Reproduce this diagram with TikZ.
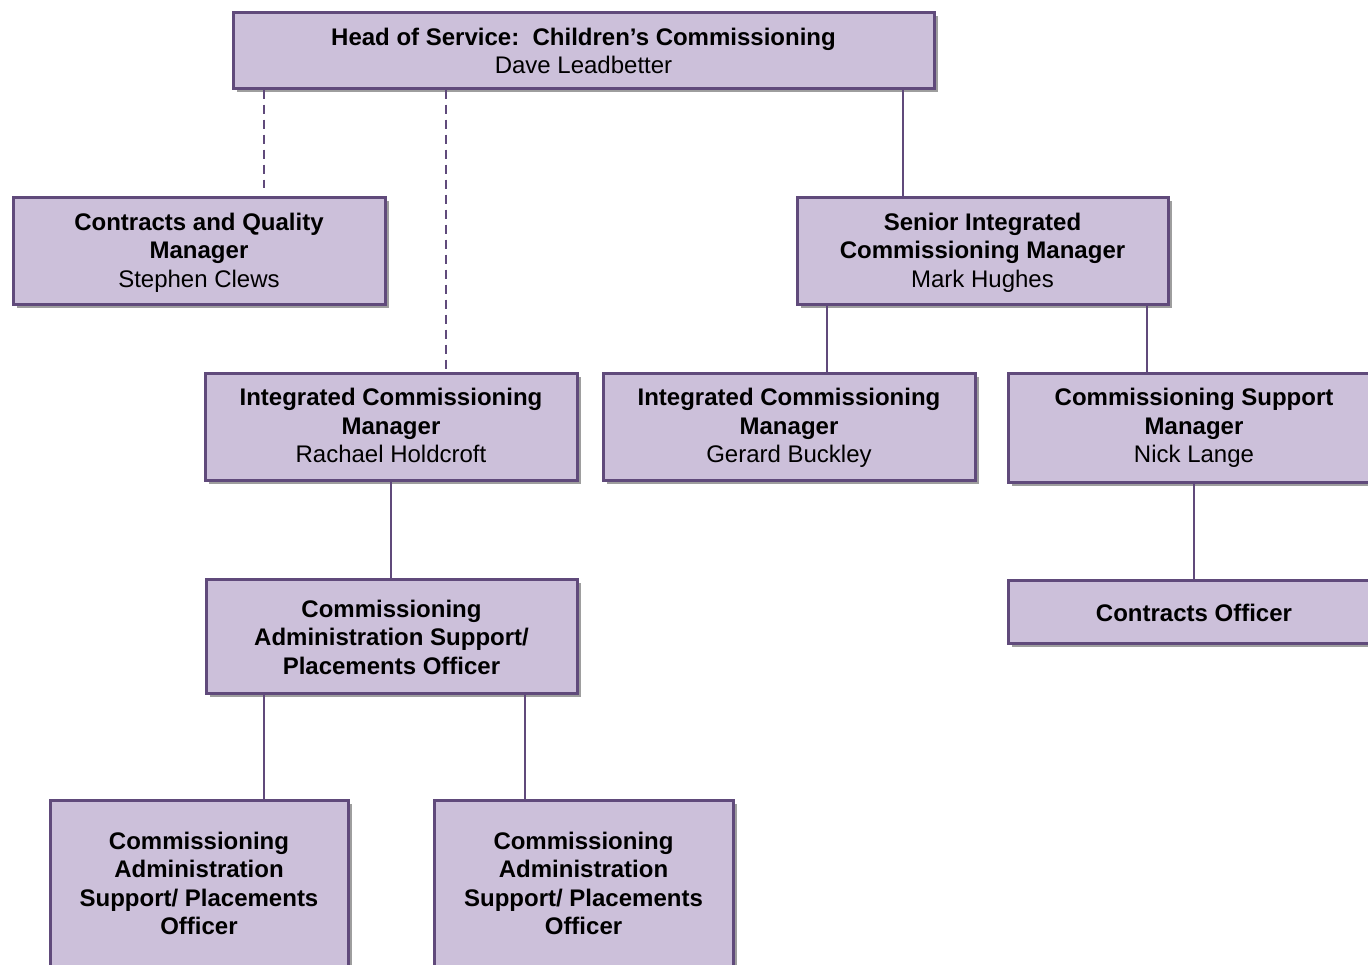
\documentclass[tikz,border=0pt]{standalone}
\usepackage{fontspec}
\setmainfont{Liberation Sans}
\usetikzlibrary{shadows}
\definecolor{boxfill}{HTML}{CCC0DA}
\definecolor{boxline}{HTML}{604A7B}
\definecolor{shadowgrey}{HTML}{9E9E9E}
\tikzset{
  box/.style={draw=boxline, line width=3pt, fill=boxfill, rectangle, inner sep=0pt,
    drop shadow={shadow xshift=4pt, shadow yshift=-4pt, fill=shadowgrey, opacity=1}},
  txt/.style={align=center, inner sep=0pt, font=\fontsize{24}{28.5}\selectfont},
  link/.style={draw=boxline, line width=1.6pt},
  dotlink/.style={draw=boxline, line width=1.6pt, dash pattern=on 9pt off 6pt},
}
\begin{document}
\begin{tikzpicture}[x=1pt,y=-1pt]
\clip (0,0) rectangle (1368,964);
\fill[white] (0,0) rectangle (1368,964);
\node[box, minimum width=701, minimum height=76] (head) at (583.5,50) {};
\node[box, minimum width=372, minimum height=107] (cq) at (199,250.5) {};
\node[box, minimum width=371, minimum height=107] (sicm) at (982.5,250.5) {};
\node[box, minimum width=372, minimum height=107] (icmr) at (391,426.5) {};
\node[box, minimum width=372, minimum height=107] (icmg) at (789,426.5) {};
\node[box, minimum width=372, minimum height=109] (csm) at (1194,427.5) {};
\node[box, minimum width=372, minimum height=63] (co) at (1194,611.5) {};
\node[box, minimum width=371, minimum height=114] (adm) at (391.5,636) {};
\node[box, minimum width=298, minimum height=168] (adm1) at (199,884) {};
\node[box, minimum width=299, minimum height=168] (adm2) at (583.5,884) {};
\node[txt] (headt) at ([yshift=-1pt]head.center) {\textbf{Head of Service:\ \ Children’s Commissioning}\\Dave Leadbetter};
\node[txt] (cqt) at ([yshift=-2pt]cq.center) {\textbf{Contracts and Quality}\\\textbf{Manager}\\Stephen Clews};
\node[txt] (sicmt) at ([yshift=-2pt]sicm.center) {\textbf{Senior Integrated}\\\textbf{Commissioning Manager}\\Mark Hughes};
\node[txt] (icmrt) at ([yshift=1pt]icmr.center) {\textbf{Integrated Commissioning}\\\textbf{Manager}\\Rachael Holdcroft};
\node[txt] (icmgt) at ([yshift=-1.5pt]icmg.center) {\textbf{Integrated Commissioning}\\\textbf{Manager}\\Gerard Buckley};
\node[txt] (csmt) at ([yshift=-0.5pt]csm.center) {\textbf{Commissioning Support}\\\textbf{Manager}\\Nick Lange};
\node[txt] (cot) at ([yshift=-1pt]co.center) {\textbf{Contracts Officer}};
\node[txt] (admt) at ([yshift=-1pt]adm.center) {\textbf{Commissioning}\\\textbf{Administration Support/}\\\textbf{Placements Officer}};
\node[txt] (adm1t) at ([yshift=0.5pt]adm1.center) {\textbf{Commissioning}\\\textbf{Administration}\\\textbf{Support/ Placements}\\\textbf{Officer}};
\node[txt] (adm2t) at ([yshift=0.5pt]adm2.center) {\textbf{Commissioning}\\\textbf{Administration}\\\textbf{Support/ Placements}\\\textbf{Officer}};
\coordinate (cqend) at (264,188);
\draw[dotlink] (head.south -| cqend) -- (cqend);
\draw[dotlink] (head.south -| 446,0) -- (icmr.north -| 446,0);
\draw[link] (head.south -| 903,0) -- (sicm.north -| 903,0);
\draw[link] (sicm.south -| 827,0) -- (icmg.north -| 827,0);
\draw[link] (sicm.south -| 1147,0) -- (csm.north -| 1147,0);
\draw[link] (icmr.south) -- (adm.north -| icmr.south);
\draw[link] (csm.south) -- (co.north);
\draw[link] (adm.south -| 264,0) -- (adm1.north -| 264,0);
\draw[link] (adm.south -| 525,0) -- (adm2.north -| 525,0);
\end{tikzpicture}
\end{document}
